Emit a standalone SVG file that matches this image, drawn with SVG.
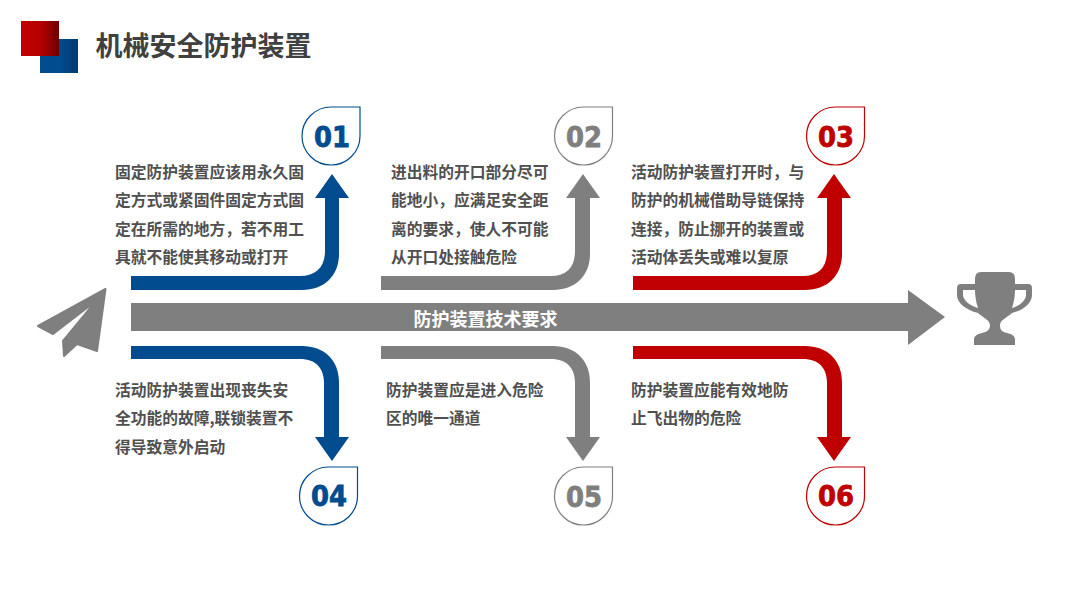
<svg xmlns="http://www.w3.org/2000/svg" width="1080" height="608" viewBox="0 0 1080 608">
<style>
.t{font-family:"Noto Sans CJK SC","Liberation Sans",sans-serif;font-weight:700;font-size:15.75px;fill:#505050}
.n{font-family:"DejaVu Sans",sans-serif;font-weight:700;font-size:28px;text-anchor:middle;stroke-width:.8}
.drop{fill:#fff;stroke-width:1.2}
.blue{fill:#004c8e}.gray{fill:#7f7f7f}.red{fill:#c00000}
.n.blue{stroke:#004c8e}.n.gray{stroke:#7f7f7f}.n.red{stroke:#c00000}
</style>
<defs>
<linearGradient id="gr"><stop offset="0" stop-color="#c00000"/><stop offset=".5" stop-color="#b80000"/><stop offset="1" stop-color="#6e0000"/></linearGradient>
<linearGradient id="gb"><stop offset="0" stop-color="#004c8e"/><stop offset=".5" stop-color="#004c8e"/><stop offset="1" stop-color="#003a70"/></linearGradient>
<path id="d" d="M29.500 0H58.500V29C58.500 45 45.500 58 29.500 58C13.500 58 0.500 45 0.500 29C0.500 13 13.500 0 29.500 0Z"/>
</defs>
<rect width="1080" height="608" fill="#fff"/>
<g id="logo">
<rect x="40" y="39" width="38" height="34" fill="url(#gb)"/>
<rect x="21" y="21" width="38" height="35" fill="url(#gr)"/>
</g>
<text id="title" x="95.500" y="56" font-family="'Noto Sans CJK SC',sans-serif" font-weight="700" font-size="27px" fill="#404040">机械安全防护装置</text>
<g id="connectors">
<path class="blue" d="M131 276H300C316 276 325 267 325 251V198H315L332 174L349 198H339V254C339 276 324 290 302 290H131Z"/>
<path class="gray" d="M381 276H551C567 276 575 267 575 251V198H566L583 174L600 198H590V254C590 276 575 290 553 290H381Z"/>
<path class="red" d="M633 276H803C819 276 827 267 827 251V198H817L834 174L851 198H842V254C842 276 827 290 805 290H633Z"/>
<path class="blue" d="M131 346H302C324 346 339 360 339 382V437H349L332 461L315 437H324V384C324 368 316 359 300 359H131Z"/>
<path class="gray" d="M381 346H553C575 346 590 360 590 382V437H600L583 461L566 437H575V384C575 368 567 359 551 359H381Z"/>
<path class="red" d="M633 346H805C827 346 842 360 842 382V437H851L834 461L817 437H827V384C827 368 819 359 803 359H633Z"/>
<path class="gray" d="M131 303H908V290L945 317L908 345V331H131Z"/>
</g>
<text id="main-label" x="413.500" y="325.500" font-family="'Noto Sans CJK SC',sans-serif" font-weight="700" font-size="18px" fill="#fff">防护装置技术要求</text>
<g id="plane">
<path class="gray" stroke="#7f7f7f" stroke-width="2" stroke-linejoin="round" d="M105.500 289L38 326L53 334L96 301L63 341L64 356L77 344L97 351Z"/>
</g>
<g id="trophy">
<path class="gray" fill-rule="evenodd" d="M981 272H1009Q1015 272 1015 279V284H1028Q1032 284 1032 288V295C1032 303 1024 310 1012 313C1008 317 1000 320 1000 325C1000 330 1002 332 1007 333C1012 334 1015 336 1015 340V345H974V340C974 336 977 334 982 333C987 332 990 330 990 325C990 320 982 317 978 313C966 310 957 303 957 295V288Q957 284 961 284H975V279Q975 272 981 272ZM963 290V295C963 300 970 306 978 308C976 302 975 296 975 290ZM1015 290C1015 296 1014 302 1012 308C1020 306 1026 300 1026 295V290Z"/>
</g>
<g id="node-01"><use href="#d" x="301.500" y="107" class="drop" stroke="#004c8e"/><text class="n blue" x="332" y="147" textLength="36" lengthAdjust="spacingAndGlyphs">01</text>
<text class="t"><tspan x="115" y="178">固定防护装置应该用永久固</tspan><tspan x="115" y="206">定方式或紧固件固定方式固</tspan><tspan x="115" y="235">定在所需的地方，若不用工</tspan><tspan x="115" y="263">具就不能使其移动或打开</tspan></text></g>
<g id="node-02"><use href="#d" x="554" y="107" class="drop" stroke="#7f7f7f"/><text class="n gray" x="584" y="147" textLength="36" lengthAdjust="spacingAndGlyphs">02</text>
<text class="t"><tspan x="391" y="178">进出料的开口部分尽可</tspan><tspan x="391" y="206">能地小，应满足安全距</tspan><tspan x="391" y="235">离的要求，使人不可能</tspan><tspan x="391" y="263">从开口处接触危险</tspan></text></g>
<g id="node-03"><use href="#d" x="806" y="107" class="drop" stroke="#c00000"/><text class="n red" x="836" y="147" textLength="36" lengthAdjust="spacingAndGlyphs">03</text>
<text class="t"><tspan x="631" y="178">活动防护装置打开时，与</tspan><tspan x="631" y="206">防护的机械借助导链保持</tspan><tspan x="631" y="235">连接，防止挪开的装置或</tspan><tspan x="631" y="263">活动体丢失或难以复原</tspan></text></g>
<g id="node-04"><use href="#d" x="299" y="467" class="drop" stroke="#004c8e"/><text class="n blue" x="329" y="506" textLength="36" lengthAdjust="spacingAndGlyphs">04</text>
<text class="t"><tspan x="115" y="396">活动防护装置出现丧失安</tspan><tspan x="115" y="424">全功能的故障,联锁装置不</tspan><tspan x="115" y="453">得导致意外启动</tspan></text></g>
<g id="node-05"><use href="#d" x="554" y="467" class="drop" stroke="#7f7f7f"/><text class="n gray" x="584" y="507" textLength="36" lengthAdjust="spacingAndGlyphs">05</text>
<text class="t"><tspan x="386" y="396">防护装置应是进入危险</tspan><tspan x="386" y="424">区的唯一通道</tspan></text></g>
<g id="node-06"><use href="#d" x="806" y="467" class="drop" stroke="#c00000"/><text class="n red" x="836" y="506" textLength="36" lengthAdjust="spacingAndGlyphs">06</text>
<text class="t"><tspan x="631" y="396">防护装置应能有效地防</tspan><tspan x="631" y="424">止飞出物的危险</tspan></text></g>
</svg>
